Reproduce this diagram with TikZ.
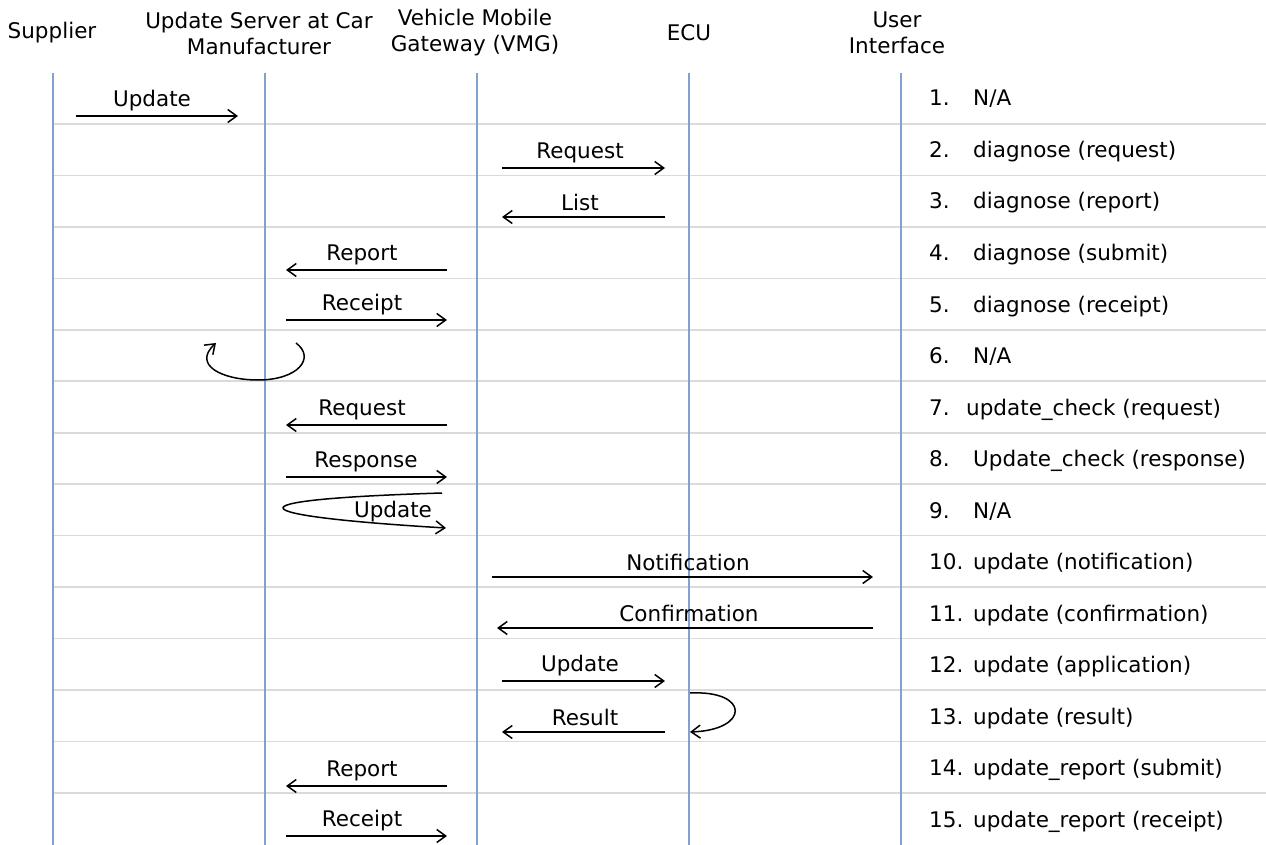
\documentclass[tikz,border=0pt]{standalone}
\usepackage{fontspec}
\setmainfont{DejaVu Sans}
\usetikzlibrary{arrows.meta}
\definecolor{lifeblue}{HTML}{7FA2D3}
\definecolor{rowgrey}{HTML}{DADADA}
\tikzset{
  lifeline/.style={draw=lifeblue, line width=1.6pt},
  rowline/.style={draw=rowgrey, line width=1.6pt},
  msg/.style={draw=black, line width=1.5pt,
    -{Straight Barb[length=9pt,width=13pt,line width=1.5pt]}},
  txt/.style={font=\fontsize{21.5}{26}\selectfont, inner sep=0pt},
  head/.style={txt, align=center},
}
\begin{document}
\begin{tikzpicture}[x=1pt, y=-1pt]
\useasboundingbox (0,0) rectangle (1266,845);

% row separators
\foreach \r in {1,...,14}
  \draw[rowline] (53,{124+(\r-1)*51.45}) -- (1266,{124+(\r-1)*51.45});

% participants
\node[head] (hsup) at (52,33) {Supplier};
\node[head] (hsrv) at (259,33) {Update Server at Car\\Manufacturer};
\node[head] (hvmg) at (475,33) {Vehicle Mobile\\Gateway (VMG)};
\node[head] (hecu) at (689,33) {ECU};
\node[head] (hui)  at (897,33) {User\\Interface};

% lifelines
\foreach \n/\x in {sup/53, srv/265, vmg/477, ecu/689, ui/901} {
  \coordinate (\n top) at (\x,73);
  \coordinate (\n bot) at (\x,845);
  \draw[lifeline] (\n top) -- (\n bot);
}

% straight messages: id / from x / to x / y / label / label x
\foreach \k/\xa/\xb/\y/\t/\lx in {
   1/76/238/116/Update/152,
   2/502/665/168/Request/580,
   3/665/502/217/List/580,
   4/447/286/270/Report/362,
   5/286/447/320/Receipt/362,
   7/447/286/425/Request/362,
   8/286/447/477/Response/366,
  10/492/873/577/Notification/688,
  11/873/497/628/Confirmation/689,
  12/502/665/681/Update/580,
  13/665/502/732/Result/585,
  14/447/286/786/Report/362,
  15/286/447/836/Receipt/362} {
  \coordinate (m\k a) at (\xa,\y);
  \coordinate (m\k b) at (\xb,\y);
  \draw[msg] (m\k a) -- (m\k b);
  \node[txt] (l\k) at (\lx,\y-15) {\t};
}

% step 6: processing loop at the update server
\coordinate (m6a) at (296,343);
\coordinate (m6c) at (258,380);
\coordinate (m6b) at (216,343);
\draw[msg] (m6a) .. controls (316,358) and (298,380) .. (m6c)
                 .. controls (222,380) and (192,365) .. (m6b);

% step 9: update delivered back to the gateway
\coordinate (m9a) at (442,493);
\coordinate (m9b) at (446,528);
\draw[msg] (m9a) .. controls (215,500) and (245,516) .. (m9b);
\node[txt] (l9) at (393,512) {Update};

% step 13: update applied inside the ECU
\coordinate (m13c) at (690,693);
\coordinate (m13d) at (690,732);
\draw[msg] (m13c) .. controls (750,690) and (750,730) .. (m13d);

% step list
\foreach \n/\t/\x in {
   1/{N/A}/973,
   2/{diagnose (request)}/973,
   3/{diagnose (report)}/973,
   4/{diagnose (submit)}/973,
   5/{diagnose (receipt)}/973,
   6/{N/A}/973,
   7/{update\_check (request)}/966,
   8/{Update\_check (response)}/973,
   9/{N/A}/973,
  10/{update (notification)}/973,
  11/{update (confirmation)}/973,
  12/{update (application)}/973,
  13/{update (result)}/973,
  14/{update\_report (submit)}/973,
  15/{update\_report (receipt)}/973} {
  \node[txt, anchor=base west] (n\n) at (929,{106+(\n-1)*51.5}) {\n.};
  \node[txt, anchor=base west] (s\n) at (\x,{106+(\n-1)*51.5}) {\t};
}
\end{tikzpicture}
\end{document}
